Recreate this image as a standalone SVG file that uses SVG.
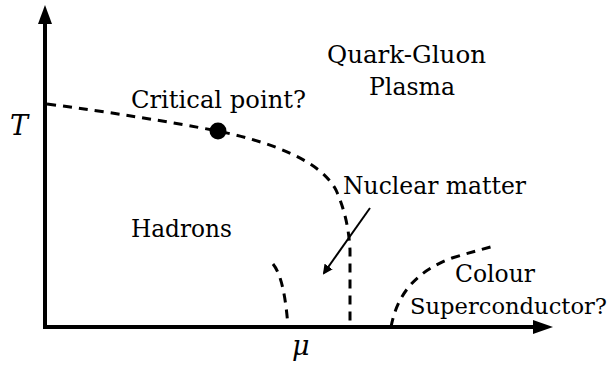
<svg xmlns="http://www.w3.org/2000/svg" width="613" height="365" viewBox="0 0 613 365">
<style>
text{font-family:'DejaVu Serif','Liberation Serif',serif;font-size:25px;fill:#000}
.it{font-style:italic;font-size:27px}
.dash{fill:none;stroke:#000;stroke-width:3;stroke-dasharray:9,7}
.axis{fill:none;stroke:#000;stroke-width:4}
</style>
<defs>
<marker id="ah" markerWidth="10" markerHeight="10" refX="8" refY="5" orient="auto" markerUnits="userSpaceOnUse">
<path d="M0,0 L10,5 L0,10 Z" fill="#000"/>
</marker>
</defs>
<g id="axes">
<line class="axis" x1="45" y1="329" x2="45" y2="22"/>
<polygon points="45,5 38,24 52,24" fill="#000"/>
<line class="axis" x1="43" y1="327" x2="534" y2="327"/>
<polygon points="553,327 533,320 533,334" fill="#000"/>
</g>
<g id="connectors">
<path class="dash" d="M47,104 C110,112 170,122 218,131 C270,142 320,160 336,190 C345,210 349,230 350,250 L350,327"/>
<path class="dash" d="M273,264 C282,275 286,300 288,327"/>
<path class="dash" d="M391,327 C398,290 420,270 452,258 C468,253 480,250 494,246"/>
<line x1="370" y1="208" x2="324" y2="273" stroke="#000" stroke-width="2" marker-end="url(#ah)"/>
</g>
<g id="critical-point">
<circle cx="218" cy="131" r="8.5" fill="#000"/>
</g>
<g id="labels">
<text x="327" y="63" textLength="159" lengthAdjust="spacingAndGlyphs">Quark-Gluon</text>
<text x="369" y="95" textLength="86" lengthAdjust="spacingAndGlyphs">Plasma</text>
<text x="131" y="108" textLength="175" lengthAdjust="spacingAndGlyphs">Critical point?</text>
<text x="131" y="237" textLength="101" lengthAdjust="spacingAndGlyphs">Hadrons</text>
<text x="343" y="194" textLength="183" lengthAdjust="spacingAndGlyphs">Nuclear matter</text>
<text x="455" y="282" textLength="80" lengthAdjust="spacingAndGlyphs">Colour</text>
<text x="410" y="314" font-size="22" style="font-size:22px" textLength="197" lengthAdjust="spacingAndGlyphs">Superconductor?</text>
<text class="it" x="10" y="135">T</text>
<text class="it" x="292" y="355">μ</text>
</g>
</svg>
